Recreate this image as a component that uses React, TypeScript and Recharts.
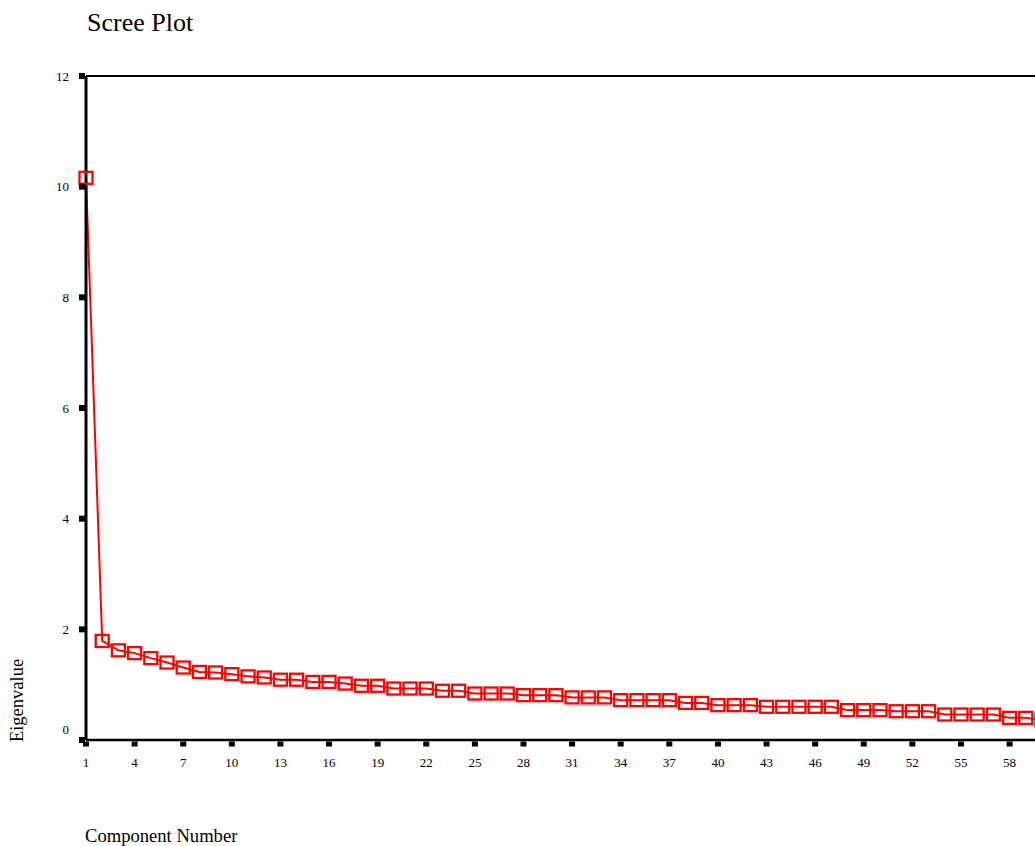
import React from 'react';
import { LineChart, Line, XAxis, YAxis, ReferenceLine } from 'recharts';

// Component numbers and their eigenvalues
const components: number[] = Array.from({ length: 60 }, (_, i) => i + 1);
const eigenvalues: number[] = [
  10.16, 1.79, 1.62, 1.57, 1.48, 1.4, 1.31, 1.23, 1.22, 1.19,
  1.15, 1.13, 1.09, 1.09, 1.05, 1.05, 1.02, 0.98, 0.98, 0.93,
  0.93, 0.93, 0.89, 0.89, 0.84, 0.84, 0.84, 0.81, 0.81, 0.81,
  0.77, 0.77, 0.77, 0.72, 0.72, 0.72, 0.72, 0.67, 0.67, 0.63,
  0.63, 0.63, 0.6, 0.6, 0.6, 0.6, 0.6, 0.54, 0.54, 0.54,
  0.52, 0.52, 0.52, 0.46, 0.46, 0.46, 0.46, 0.4, 0.4, 0.36,
];

const xTicks: number[] = [1, 4, 7, 10, 13, 16, 19, 22, 25, 28, 31, 34, 37, 40, 43, 46, 49, 52, 55, 58];
const yTicks: number[] = [0, 2, 4, 6, 8, 10, 12];

const data = components.map((c, i) => ({ component: c, eigenvalue: eigenvalues[i] }));

const FONT = "'Liberation Serif', 'Times New Roman', Times, serif";
const RED = '#ff0000';

function XTick(props: any) {
  const { x, y, payload } = props;
  return (
    <g>
      <rect x={x - 3} y={y + 1.5} width={6} height={5} fill="#000" />
      <text x={x} y={y + 27} textAnchor="middle" fontFamily={FONT} fontSize={13} fill="#000">
        {payload.value}
      </text>
    </g>
  );
}

function YTick(props: any) {
  const { x, y, payload } = props;
  const shift = payload.value === 0 ? -11 : 0;
  return (
    <g>
      <rect x={x - 7} y={y - 3} width={6} height={6} fill="#000" />
      <text x={x - 17} y={y + shift + 4.5} textAnchor="end" fontFamily={FONT} fontSize={13} fill="#000">
        {payload.value}
      </text>
    </g>
  );
}

function SquareDot(props: any) {
  const { cx, cy, index } = props;
  if (cx == null || cy == null) return <g key={`d-${index}`} />;
  return (
    <rect
      key={`d-${index}`}
      x={cx - 6.5}
      y={cy - 6}
      width={13}
      height={12}
      fill="none"
      stroke={RED}
      strokeWidth={2.3}
    />
  );
}

export default function App() {
  return (
    <div
      style={{
        position: 'fixed',
        left: 0,
        top: 0,
        width: 1035,
        height: 846,
        overflow: 'hidden',
        background: '#fff',
      }}
    >
      <LineChart
        width={1100}
        height={846}
        data={data}
        margin={{ top: 76, right: 58, bottom: 76, left: 26 }}
      >
        <XAxis
          dataKey="component"
          type="number"
          domain={[1, 60]}
          ticks={xTicks}
          interval={0}
          height={30}
          tickSize={0}
          tickMargin={0}
          tickLine={false}
          axisLine={{ stroke: '#000', strokeWidth: 2.5 }}
          tick={<XTick />}
        />
        <YAxis
          type="number"
          domain={[0, 12]}
          ticks={yTicks}
          interval={0}
          width={60}
          tickSize={0}
          tickMargin={0}
          tickLine={false}
          axisLine={{ stroke: '#000', strokeWidth: 3 }}
          tick={<YTick />}
        />
        <ReferenceLine y={12} stroke="#000" strokeWidth={2} />
        <Line
          type="linear"
          dataKey="eigenvalue"
          stroke={RED}
          strokeWidth={2}
          dot={SquareDot}
          activeDot={false}
          isAnimationActive={false}
        />
      </LineChart>
      <svg
        width={1035}
        height={846}
        style={{ position: 'absolute', left: 0, top: 0, pointerEvents: 'none' }}
      >
        <text x={87} y={31} fontFamily={FONT} fontSize={26} fill="#000">
          Scree Plot
        </text>
        <text x={85} y={842} fontFamily={FONT} fontSize={18.6} fill="#000">
          Component Number
        </text>
        <text
          transform="translate(23, 700.5) rotate(-90)"
          textAnchor="middle"
          fontFamily={FONT}
          fontSize={18.5}
          fill="#000"
        >
          Eigenvalue
        </text>
      </svg>
    </div>
  );
}
